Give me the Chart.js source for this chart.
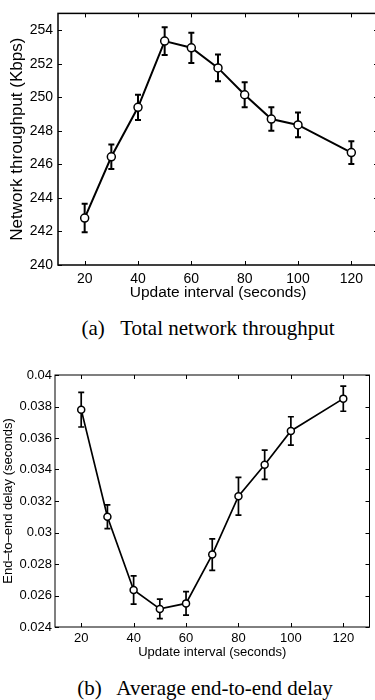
<!DOCTYPE html>
<html>
<head>
<meta charset="utf-8">
<script src="https://cdn.jsdelivr.net/npm/chart.js@4.4.0/dist/chart.umd.min.js"></script>
<style>
  body { margin: 0; background: #fff; }
  #page { position: relative; width: 375px; height: 700px; overflow: hidden; }
  canvas { position: absolute; left: 0; }
  .caption {
    position: absolute; font-family: "Liberation Serif", "Times New Roman", serif;
    font-size: 21px; color: #000; white-space: pre; transform: translate(-50%, -50%);
  }
</style>
</head>
<body>
<div id="page">
  <canvas id="throughput-chart" width="390" height="310" style="top:0"></canvas>
  <div class="caption" style="left:208px; top:328px">(a)   Total network throughput</div>
  <canvas id="delay-chart" width="375" height="320" style="top:350px"></canvas>
  <div class="caption" style="left:205px; top:688px">(b)   Average end-to-end delay</div>
</div>
<script>
const intervals = [20, 30, 40, 50, 60, 70, 80, 90, 100, 120];
const throughput = [242.8, 246.45, 249.4, 253.35, 252.95, 251.75, 250.15, 248.7, 248.35, 246.7];
const throughputErr = [0.85, 0.73, 0.75, 0.83, 0.9, 0.8, 0.75, 0.7, 0.74, 0.68];
const delay = [0.0378, 0.0310, 0.02635, 0.02515, 0.0255, 0.0286, 0.0323, 0.0343, 0.03645, 0.0385];
const delayErr = [0.0011, 0.00076, 0.0009, 0.00062, 0.00074, 0.001, 0.0012, 0.00093, 0.0009, 0.0008];
const xTickValues = [20, 40, 60, 80, 100, 120];
const throughputTicks = [240, 242, 244, 246, 248, 250, 252, 254];
const delayTicks = [0.024, 0.026, 0.028, 0.03, 0.032, 0.034, 0.036, 0.038, 0.04];

Chart.defaults.color = '#000';
Chart.defaults.font.family = '"Liberation Sans", Arial, sans-serif';

// error bars under the line, matlab style box with inward ticks on top
const matlabBox = {
  id: 'matlabBox',
  beforeDatasetsDraw(chart) {
    const ctx = chart.ctx, xs = chart.scales.x, ys = chart.scales.y;
    chart.data.datasets.forEach(ds => {
      ctx.save();
      ctx.strokeStyle = '#000';
      ctx.lineWidth = ds.errWidth;
      ds.data.forEach((p, i) => {
        const x = xs.getPixelForValue(p.x);
        const y1 = ys.getPixelForValue(p.y + ds.errors[i]);
        const y2 = ys.getPixelForValue(p.y - ds.errors[i]);
        ctx.beginPath();
        ctx.moveTo(x, y1); ctx.lineTo(x, y2);
        ctx.moveTo(x - 3, y1); ctx.lineTo(x + 3, y1);
        ctx.moveTo(x - 3, y2); ctx.lineTo(x + 3, y2);
        ctx.stroke();
      });
      ctx.restore();
    });
  },
  afterDatasetsDraw(chart, args, opts) {
    const ctx = chart.ctx, a = chart.chartArea;
    const xs = chart.scales.x, ys = chart.scales.y;
    ctx.save();
    ctx.strokeStyle = '#000';
    ctx.lineWidth = opts.width;
    ctx.strokeRect(a.left, a.top, a.right - a.left, a.bottom - a.top);
    ctx.lineWidth = 1;
    ctx.beginPath();
    xs.ticks.forEach(t => {
      const x = Math.round(xs.getPixelForValue(t.value)) + 0.5;
      ctx.moveTo(x, a.bottom); ctx.lineTo(x, a.bottom - 4);
      ctx.moveTo(x, a.top); ctx.lineTo(x, a.top + 4);
    });
    ys.ticks.forEach(t => {
      const y = Math.round(ys.getPixelForValue(t.value)) + 0.5;
      ctx.moveTo(a.left, y); ctx.lineTo(a.left + 4, y);
      ctx.moveTo(a.right, y); ctx.lineTo(a.right - 4, y);
    });
    ctx.stroke();
    ctx.restore();
  }
};

function makeChart(id, values, errors, yTicks, o) {
  return new Chart(document.getElementById(id), {
    type: 'line',
    data: {
      datasets: [{
        data: intervals.map((x, i) => ({ x: x, y: values[i] })),
        errors: errors,
        errWidth: o.lineWidth,
        borderColor: '#000',
        borderWidth: o.lineWidth,
        pointRadius: o.pointRadius,
        pointBorderWidth: 1.5,
        pointBackgroundColor: '#fff',
        pointBorderColor: '#000',
        tension: 0
      }]
    },
    options: {
      responsive: false,
      animation: false,
      devicePixelRatio: 1,
      layout: { padding: o.padding },
      plugins: {
        legend: { display: false },
        tooltip: { enabled: false },
        matlabBox: { width: o.boxWidth }
      },
      scales: {
        x: {
          type: 'linear', min: 10, max: 130,
          afterBuildTicks: s => { s.ticks = xTickValues.map(v => ({ value: v })); },
          afterFit: s => { s.height = o.xHeight; },
          grid: { display: false, drawTicks: false },
          border: { display: false },
          ticks: { font: { size: o.tickSize }, padding: o.xTickPad, maxRotation: 0 },
          title: { display: true, text: 'Update interval (seconds)', font: { size: o.xTitleSize }, padding: { top: 0, bottom: o.xTitlePad } }
        },
        y: {
          min: yTicks[0], max: o.yMax,
          afterBuildTicks: s => { s.ticks = yTicks.map(v => ({ value: v })); },
          afterFit: s => { s.width = o.yWidth; },
          grid: { display: false, drawTicks: false },
          border: { display: false },
          ticks: { font: { size: o.tickSize }, padding: o.yTickPad, callback: v => parseFloat(v.toFixed(3)).toString() },
          title: { display: true, text: o.yTitle, font: { size: o.yTitleSize }, padding: { top: o.yTitlePad, bottom: 0 } }
        }
      }
    },
    plugins: [matlabBox]
  });
}

makeChart('throughput-chart', throughput, throughputErr, throughputTicks, {
  yMax: 255, yTitle: 'Network throughput (Kbps)',
  padding: { left: 0, top: 5, right: 12, bottom: 0 },
  yWidth: 58, xHeight: 45, tickSize: 14, xTickPad: 6, yTickPad: 5,
  xTitleSize: 15.5, xTitlePad: 8, yTitleSize: 17, yTitlePad: 7,
  lineWidth: 2, pointRadius: 4, boxWidth: 1.5
});

makeChart('delay-chart', delay, delayErr, delayTicks, {
  yMax: 0.04, yTitle: 'End\u2013to\u2013end delay (seconds)',
  padding: { left: 0, top: 25, right: 3, bottom: 0 },
  yWidth: 55, xHeight: 43, tickSize: 13, xTickPad: 4, yTickPad: 3,
  xTitleSize: 13, xTitlePad: 10, yTitleSize: 13, yTitlePad: 1,
  lineWidth: 1.7, pointRadius: 3.5, boxWidth: 1
});
</script>
</body>
</html>
